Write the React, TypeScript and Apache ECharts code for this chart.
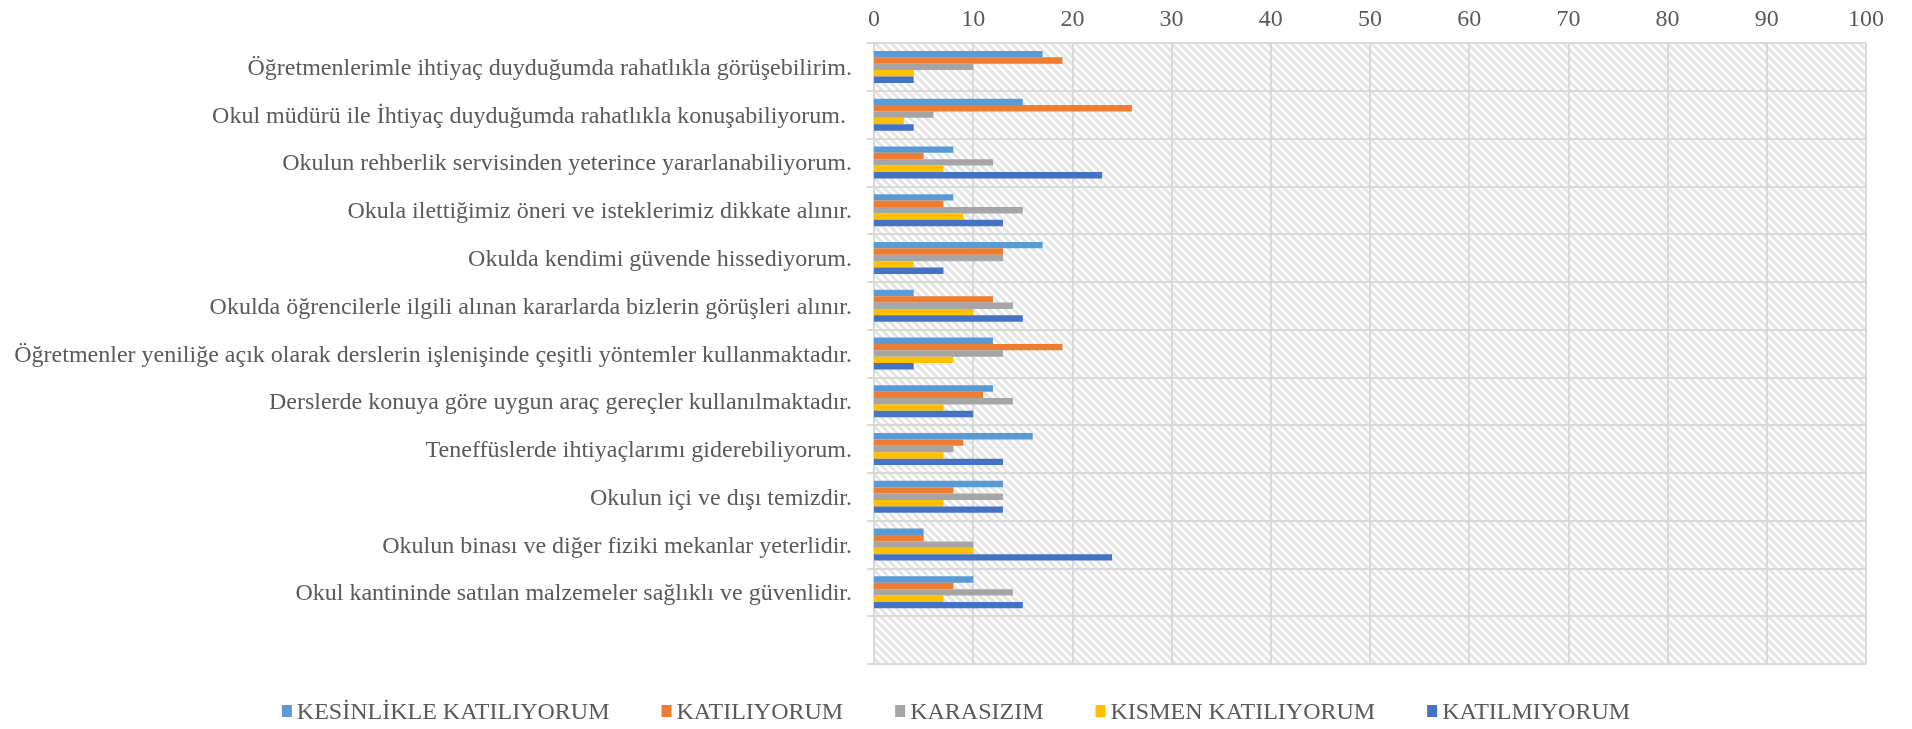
import React, { useEffect, useRef } from "react";
import * as echarts from "echarts";

const categories: string[] = [
  "Öğretmenlerimle ihtiyaç duyduğumda rahatlıkla görüşebilirim.",
  "Okul müdürü ile İhtiyaç duyduğumda rahatlıkla konuşabiliyorum. ",
  "Okulun rehberlik servisinden yeterince yararlanabiliyorum.",
  "Okula ilettiğimiz öneri ve isteklerimiz dikkate alınır.",
  "Okulda kendimi güvende hissediyorum.",
  "Okulda öğrencilerle ilgili alınan kararlarda bizlerin görüşleri alınır.",
  "Öğretmenler yeniliğe açık olarak derslerin işlenişinde çeşitli yöntemler kullanmaktadır.",
  "Derslerde konuya göre uygun araç gereçler kullanılmaktadır.",
  "Teneffüslerde ihtiyaçlarımı giderebiliyorum.",
  "Okulun içi ve dışı temizdir.",
  "Okulun binası ve diğer fiziki mekanlar yeterlidir.",
  "Okul kantininde satılan malzemeler sağlıklı ve güvenlidir.",
  "",
];

const seriesNames: string[] = [
  "KESİNLİKLE KATILIYORUM",
  "KATILIYORUM",
  "KARASIZIM",
  "KISMEN KATILIYORUM",
  "KATILMIYORUM",
];

const kesinlikleKatiliyorum: (number | null)[] = [17, 15, 8, 8, 17, 4, 12, 12, 16, 13, 5, 10, null];
const katiliyorum: (number | null)[] = [19, 26, 5, 7, 13, 12, 19, 11, 9, 8, 5, 8, null];
const karasizim: (number | null)[] = [10, 6, 12, 15, 13, 14, 13, 14, 8, 13, 10, 14, null];
const kismenKatiliyorum: (number | null)[] = [4, 3, 7, 9, 4, 10, 8, 7, 7, 7, 10, 7, null];
const katilmiyorum: (number | null)[] = [4, 4, 23, 13, 7, 15, 4, 10, 13, 13, 24, 15, null];

const xTicks = { min: 0, max: 100, interval: 10 };

const colors: string[] = ["#5B9BD5", "#ED7D31", "#A5A5A5", "#FFC000", "#4472C4"];

function makeHatch(): HTMLCanvasElement {
  const size = 8;
  const c = document.createElement("canvas");
  c.width = size;
  c.height = size;
  const ctx = c.getContext("2d")!;
  ctx.fillStyle = "#ffffff";
  ctx.fillRect(0, 0, size, size);
  ctx.strokeStyle = "#e4e4e4";
  ctx.lineWidth = 3;
  for (let k = -1; k <= 1; k++) {
    ctx.beginPath();
    ctx.moveTo(k * size - 1, -1);
    ctx.lineTo(k * size + size + 1, size + 1);
    ctx.stroke();
  }
  return c;
}

export default function App() {
  const ref = useRef<HTMLDivElement>(null);
  useEffect(() => {
    if (!ref.current) return;
    const chart = echarts.init(ref.current, undefined, { renderer: "svg" });
    const font = "'Liberation Serif', 'Times New Roman', serif";
    const dataSets = [kesinlikleKatiliyorum, katiliyorum, karasizim, kismenKatiliyorum, katilmiyorum];
    const hatch = makeHatch();
    chart.setOption({
      animation: false,
      color: colors,
      textStyle: { fontFamily: font },
      grid: {
        left: 874,
        right: 46,
        top: 43,
        bottom: 65,
        show: true,
        borderWidth: 0,
        backgroundColor: {
          image: hatch,
          repeat: "repeat",
          imageWidth: 8,
          imageHeight: 8,
        } as any,
      },
      legend: {
        bottom: 1,
        left: "center",
        itemWidth: 10,
        itemHeight: 12,
        itemGap: 52,
        icon: "rect",
        textStyle: { fontSize: 24, color: "#595959", fontFamily: font },
        data: seriesNames,
      },
      xAxis: {
        type: "value",
        position: "top",
        min: xTicks.min,
        max: xTicks.max,
        interval: xTicks.interval,
        axisLine: { show: false },
        axisTick: { show: false },
        axisLabel: { fontSize: 24, color: "#595959", fontFamily: font, margin: 13 },
        splitLine: { show: true, lineStyle: { color: "#d9d9d9", width: 2 } },
      },
      yAxis: {
        type: "category",
        inverse: true,
        data: categories,
        axisLine: { show: true, lineStyle: { color: "#d9d9d9", width: 2 } },
        axisTick: { show: true, length: 7, lineStyle: { color: "#d9d9d9", width: 2 } },
        axisLabel: { fontSize: 24, color: "#595959", fontFamily: font, margin: 22 },
        splitLine: { show: true, lineStyle: { color: "#d9d9d9", width: 2 } },
      },
      series: seriesNames.map((name, i) => ({
        name,
        type: "bar",
        data: dataSets[i],
        barWidth: 6.4,
        barGap: "0%",
        itemStyle: { color: colors[i] },
      })),
    });
    return () => chart.dispose();
  }, []);
  return (
    <div
      ref={ref}
      style={{ position: "fixed", left: 0, top: 0, width: 1912, height: 729 }}
    />
  );
}
